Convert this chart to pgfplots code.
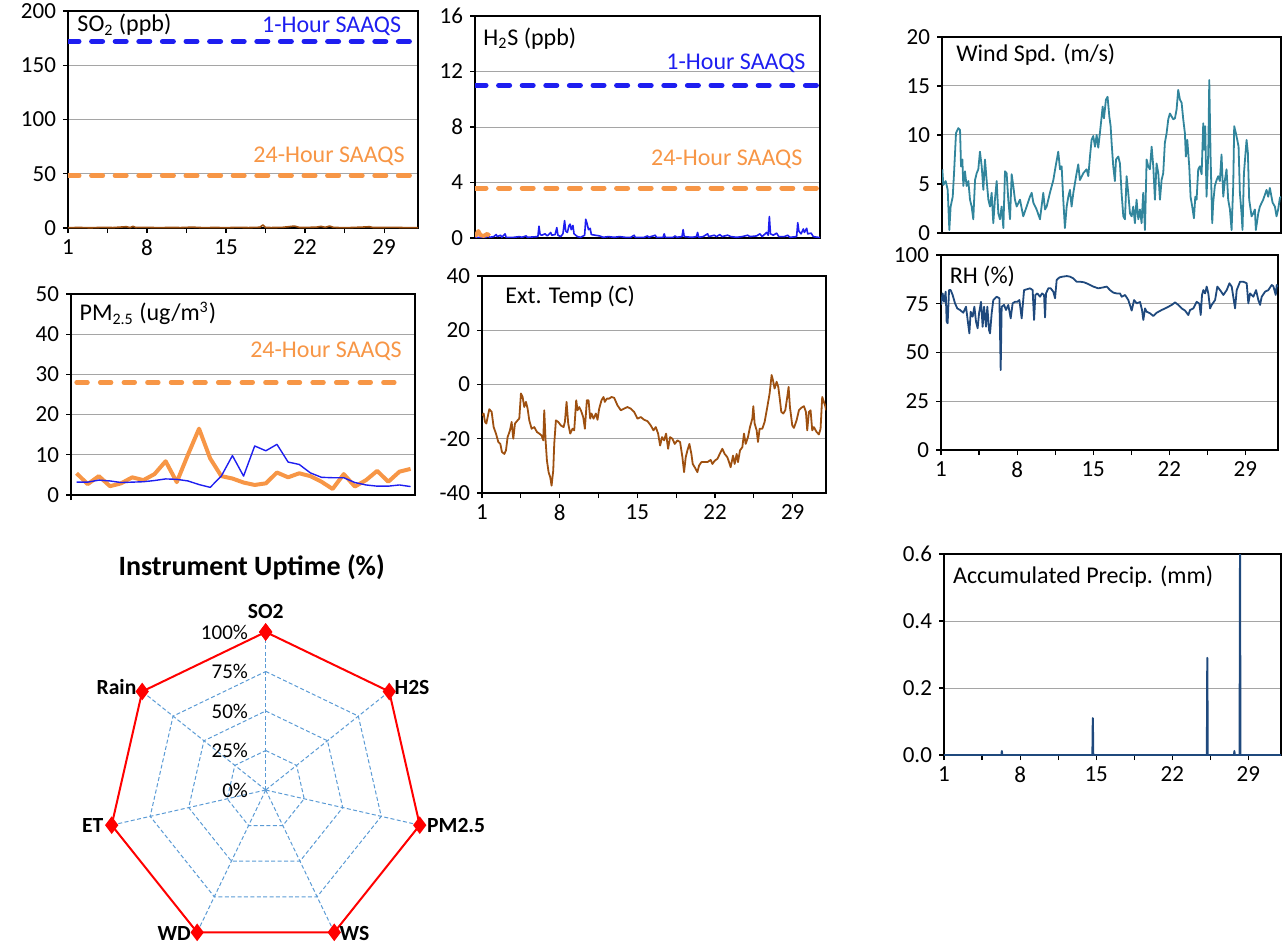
\documentclass[border=0pt]{standalone}
\usepackage{fontspec}
\setmainfont{Carlito}
\usepackage{pgfplots}
\usepackage{pgfplotstable}
\pgfplotsset{compat=1.18}

\definecolor{saaqsblue}{RGB}{30,30,240}
\definecolor{saaqsorange}{RGB}{247,150,70}
\definecolor{tempbrown}{RGB}{158,80,16}
\definecolor{windteal}{RGB}{49,133,156}
\definecolor{rhblue}{RGB}{31,73,125}
\definecolor{gridblue}{RGB}{91,155,213}
\definecolor{gridgray}{RGB}{165,165,165}

\pgfplotsset{
  panel/.style={
    scale only axis, xmin=1, xmax=32,
    axis line style={black, line width=0.8pt},
    ymajorgrids, grid style={gridgray, line width=0.5pt},
    tick align=outside, tick pos=left,
    major tick length=2.5pt, minor tick length=2.5pt,
    tick style={black, line width=0.6pt},
    tick label style={font=\fontsize{11.5}{13}\selectfont},
    /pgf/number format/assume math mode=true,
    xtick=\empty,
    every axis plot/.append style={line join=round},
  },
  daysx/.style={xtick={1,8,15,22,29}, minor xtick={4.5,11.5,18.5,25.5}},
}
\tikzset{
  std/.style={line width=2.5pt, line cap=round, dash pattern=on 5.5pt off 6.3pt},
  plabel/.style={font=\fontsize{12}{14}\selectfont, inner sep=0pt},
  rlab/.style={font=\fontsize{10.5}{12}\selectfont, anchor=east, inner sep=0pt},
  clab/.style={font=\bfseries\fontsize{10.8}{12}\selectfont, inner sep=0pt},
  rgrid/.style={gridblue, line width=0.5pt, dash pattern=on 2pt off 1.2pt},
}

% daily PM2.5
\pgfplotstableread{
day orange blue
1 5.4 3.2
2 2.7 3.2
3 4.7 3.7
4 2.2 3.5
5 2.9 3.1
6 4.4 3.2
7 3.7 3.3
8 5.2 3.6
9 8.4 4.0
10 3.2 3.9
11 10.0 3.5
12 16.5 2.6
13 9.1 1.9
14 4.7 4.7
15 4.1 9.8
16 3.1 4.7
17 2.5 12.2
18 2.9 11.0
19 5.6 12.6
20 4.4 8.2
21 5.4 7.6
22 4.7 5.5
23 3.3 4.4
24 1.5 4.3
25 5.2 4.3
26 2.1 3.1
27 3.7 2.5
28 6.0 2.2
29 3.3 2.2
30 5.8 2.5
31 6.5 2.1
}\pmdata

\pgfplotstableread{
day ws
1.03 6.5
1.12 4.9
1.34 5.3
1.52 4.4
1.67 0.3
1.79 2.7
1.98 3.7
2.10 6.1
2.28 10.2
2.49 10.7
2.65 10.5
2.74 6.8
2.86 7.5
2.95 4.8
3.10 6.3
3.25 4.8
3.41 5.3
3.56 3.4
3.71 2.7
3.86 1.4
4.02 5.4
4.17 6.1
4.32 6.5
4.47 8.3
4.63 6.8
4.78 4.4
4.93 7.5
5.08 5.4
5.24 3.4
5.39 2.7
5.54 4.1
5.69 1.0
5.84 3.4
6.00 5.3
6.15 2.0
6.30 1.4
6.45 2.7
6.61 0.5
6.76 6.3
6.91 6.1
7.06 3.4
7.22 1.4
7.37 6.0
7.52 4.8
7.67 3.4
7.83 2.7
8.13 3.4
8.43 1.7
8.74 2.7
9.04 3.7
9.20 4.1
9.35 3.1
9.65 2.4
9.96 1.4
10.26 4.1
10.42 2.4
10.57 2.7
10.87 4.1
11.18 5.4
11.39 6.8
11.63 8.3
11.79 6.5
11.94 6.8
12.09 3.4
12.24 0.5
12.40 2.7
12.55 3.7
12.70 4.4
12.85 2.7
13.01 4.1
13.31 6.1
13.46 7.0
13.61 5.4
13.92 6.1
14.22 6.5
14.38 5.8
14.53 7.8
14.68 9.5
14.83 9.9
14.99 8.8
15.14 10.0
15.29 8.7
15.44 10.2
15.60 11.9
15.69 12.9
15.81 11.7
15.99 13.6
16.14 13.9
16.30 11.9
16.42 10.9
16.51 9.2
16.66 6.8
16.81 5.3
16.91 7.5
17.12 7.8
17.27 7.1
17.42 4.1
17.58 1.7
17.73 1.4
17.88 5.8
18.03 4.1
18.19 2.0
18.34 1.7
18.49 2.7
18.64 1.0
18.79 3.4
18.95 1.4
19.10 2.4
19.25 1.0
19.40 4.1
19.56 0.3
19.71 7.5
19.86 6.8
20.01 6.5
20.17 8.8
20.32 6.8
20.47 3.4
20.62 7.1
20.78 6.1
20.93 3.4
21.08 5.4
21.23 6.1
21.38 9.2
21.54 10.2
21.69 11.6
21.84 12.2
21.99 11.9
22.15 11.6
22.30 11.7
22.45 12.6
22.60 14.6
22.76 13.6
22.91 13.3
23.06 11.6
23.21 10.2
23.30 7.8
23.43 9.5
23.61 6.8
23.73 3.7
23.88 2.7
24.04 1.5
24.16 3.7
24.28 3.4
24.43 6.5
24.58 6.8
24.74 6.0
24.89 11.2
24.98 8.5
25.07 10.9
25.19 3.7
25.35 8.2
25.44 15.6
25.56 7.8
25.71 1.0
25.80 3.1
25.95 4.8
26.11 5.4
26.26 5.8
26.41 5.3
26.56 8.0
26.72 3.7
26.87 5.4
27.02 6.5
27.17 3.4
27.33 2.4
27.48 0.3
27.63 4.8
27.72 10.9
27.87 10.2
28.00 9.5
28.12 8.8
28.24 4.1
28.39 2.0
28.48 0.3
28.61 6.1
28.73 7.8
28.85 9.5
28.97 8.2
29.09 3.4
29.31 1.7
29.46 2.0
29.61 2.4
29.70 0.3
29.92 2.0
30.07 2.7
30.37 3.4
30.68 4.4
30.83 3.7
30.98 4.6
31.23 3.1
31.44 2.7
31.59 1.7
31.74 2.4
31.90 3.6
31.99 3.7
}\winddata

\pgfplotstableread{
day rh
1.00 74.4
1.15 80.3
1.28 76.0
1.43 81.2
1.52 65.8
1.61 65.0
1.74 82.0
1.89 82.0
2.07 79.5
2.29 75.2
2.50 72.6
2.75 71.8
3.05 70.4
3.30 73.5
3.45 66.7
3.61 59.8
3.73 70.9
3.91 68.4
4.07 73.5
4.22 65.8
4.37 62.4
4.50 70.1
4.68 76.0
4.83 63.2
4.96 73.5
5.14 63.2
5.26 73.5
5.42 61.5
5.51 59.8
5.66 70.1
5.81 76.9
6.12 78.6
6.37 77.8
6.49 41.0
6.58 73.5
6.80 74.4
6.98 71.8
7.19 74.4
7.41 67.5
7.59 75.2
7.81 76.0
8.02 76.0
8.21 76.9
8.42 67.5
8.64 82.0
8.88 82.4
9.19 82.9
9.43 82.0
9.56 66.7
9.68 79.5
9.86 80.3
10.11 78.6
10.29 80.3
10.48 79.5
10.57 68.0
10.66 80.3
10.87 82.9
11.09 82.9
11.33 81.2
11.49 77.8
11.64 87.2
11.89 88.5
12.19 88.9
12.56 89.2
12.87 88.9
13.17 88.0
13.48 86.3
13.79 86.3
14.16 86.0
14.55 85.1
15.01 83.8
15.47 82.9
15.93 83.4
16.24 83.8
16.55 82.0
16.85 80.7
17.16 80.3
17.47 80.3
17.62 78.6
17.93 79.5
18.23 76.9
18.54 71.5
18.76 76.9
19.00 75.2
19.31 75.9
19.49 71.8
19.61 66.7
19.77 72.6
19.92 70.9
20.23 70.1
20.53 68.7
20.84 70.4
21.30 71.8
21.76 73.0
22.22 74.4
22.53 75.7
22.83 74.4
23.14 72.6
23.45 71.5
23.75 69.2
23.91 71.8
24.21 72.6
24.52 76.0
24.77 75.0
24.89 69.2
25.01 79.5
25.13 82.0
25.29 80.3
25.44 83.8
25.59 80.3
25.75 72.6
25.90 74.4
26.21 76.9
26.42 83.8
26.67 82.0
26.97 79.5
27.28 82.0
27.53 85.5
27.74 83.8
28.05 72.6
28.20 82.0
28.51 86.3
28.81 86.3
29.12 85.5
29.27 75.2
29.43 80.3
29.73 78.6
29.98 82.0
30.19 76.9
30.35 74.4
30.50 78.6
30.81 81.2
31.11 82.0
31.42 84.6
31.57 84.0
31.79 79.5
31.88 84.6
32.00 83.8
}\rhdata

\pgfplotstableread{
day t
1.00 -11.4
1.15 -10.7
1.27 -13.8
1.39 -14.4
1.51 -12.0
1.66 -9.1
1.87 -10.1
2.05 -15.7
2.26 -18.1
2.47 -21.2
2.65 -21.9
2.80 -24.9
3.01 -25.6
3.16 -24.3
3.31 -19.4
3.52 -16.9
3.67 -13.8
3.82 -20.0
3.97 -14.4
4.21 -13.2
4.36 -12.6
4.51 -3.3
4.66 -4.6
4.81 -8.3
4.96 -6.4
5.11 -8.9
5.26 -13.2
5.47 -16.3
5.71 -15.7
5.95 -17.5
6.16 -18.1
6.37 -18.8
6.52 -20.6
6.61 -9.5
6.73 -20.6
6.85 -28.0
7.00 -32.3
7.15 -34.2
7.27 -37.3
7.42 -31.7
7.51 -21.9
7.66 -13.2
7.87 -13.8
8.11 -15.1
8.35 -15.7
8.47 -13.8
8.62 -6.4
8.77 -14.4
8.95 -18.1
9.16 -16.3
9.31 -16.9
9.49 -5.8
9.61 -9.5
9.76 -8.3
9.91 -9.5
10.12 -12.0
10.27 -16.3
10.45 -5.8
10.60 -5.8
10.75 -12.6
10.87 -10.7
11.05 -12.6
11.26 -10.7
11.41 -13.0
11.56 -8.9
11.77 -5.8
11.95 -4.6
12.07 -6.4
12.25 -5.2
12.46 -5.2
12.67 -4.6
12.91 -4.9
13.21 -7.7
13.51 -9.5
13.81 -8.9
14.11 -8.3
14.41 -8.9
14.71 -10.1
15.01 -12.6
15.31 -12.0
15.61 -13.0
15.91 -13.5
16.21 -15.1
16.45 -16.9
16.66 -15.7
16.87 -18.1
17.05 -22.5
17.23 -19.4
17.41 -20.6
17.59 -18.1
17.77 -23.7
17.95 -19.4
18.16 -20.0
18.37 -21.9
18.61 -20.6
18.85 -21.2
19.06 -26.8
19.21 -32.3
19.36 -26.8
19.51 -24.3
19.69 -21.9
19.87 -25.6
19.99 -29.3
20.17 -30.5
20.41 -32.3
20.56 -29.9
20.77 -28.6
21.01 -28.6
21.31 -28.6
21.61 -27.8
21.76 -29.3
21.97 -28.1
22.21 -27.4
22.51 -24.9
22.66 -23.7
22.87 -25.6
23.11 -26.8
23.26 -28.6
23.41 -30.5
23.62 -26.2
23.77 -29.3
23.95 -25.6
24.07 -28.6
24.25 -24.3
24.46 -23.1
24.61 -18.1
24.76 -21.9
24.97 -19.4
25.15 -15.7
25.36 -12.6
25.45 -8.0
25.57 -14.4
25.75 -16.9
25.87 -21.2
26.02 -16.3
26.26 -16.3
26.47 -13.8
26.71 -8.3
26.92 -3.3
27.10 3.5
27.22 1.6
27.37 -1.5
27.55 1.0
27.70 -0.9
27.85 -5.8
27.97 -10.1
28.15 -10.7
28.33 -9.5
28.51 -4.6
28.63 -0.9
28.75 -8.3
28.96 -15.1
29.11 -16.0
29.35 -13.2
29.56 -9.5
29.77 -8.6
30.01 -8.0
30.19 -10.1
30.31 -16.9
30.46 -10.1
30.61 -9.5
30.76 -16.9
30.91 -15.7
31.15 -17.5
31.36 -18.4
31.51 -16.3
31.66 -4.6
31.81 -6.4
31.96 -8.3
32.00 -9.5
}\tempdata

\pgfplotstableread{
day h
1.0 0.05
2.0 0.05
2.2 0.15
2.3 0.05
2.7 0.1
2.9 0.25
3.0 0.1
3.3 0.2
3.4 0.05
3.7 0.3
3.8 0.05
4.5 0.05
5.0 0.1
5.2 0.05
5.6 0.15
5.7 0.05
6.65 0.1
6.75 0.85
6.85 0.25
7.0 0.2
7.3 0.3
7.5 0.15
7.8 0.4
7.9 0.2
8.2 0.25
8.35 0.75
8.45 0.2
8.7 0.1
8.9 0.3
9.05 1.25
9.15 0.5
9.3 0.4
9.45 0.9
9.55 1.0
9.65 0.6
9.8 0.9
9.9 0.3
10.2 0.1
10.5 0.05
10.85 0.2
10.95 1.35
11.05 1.1
11.2 0.6
11.35 0.7
11.45 0.25
11.8 0.2
12.2 0.15
12.5 0.05
13.0 0.1
13.5 0.05
14.0 0.1
14.5 0.05
15.0 0.05
15.3 0.2
15.4 0.05
16.2 0.05
16.5 0.15
16.6 0.05
17.2 0.2
17.3 0.05
17.9 0.05
18.0 0.3
18.1 0.05
18.8 0.05
19.0 0.15
19.1 0.05
19.6 0.1
19.7 0.6
19.8 0.1
20.5 0.05
20.9 0.1
21.0 0.4
21.1 0.05
21.5 0.1
21.9 0.3
22.0 0.1
22.5 0.2
22.7 0.1
23.0 0.25
23.2 0.1
23.7 0.2
24.0 0.1
24.5 0.05
25.0 0.1
25.5 0.2
25.7 0.1
26.3 0.15
26.6 0.3
26.8 0.1
27.2 0.4
27.35 0.2
27.45 1.55
27.55 0.3
27.8 0.2
28.1 0.35
28.3 0.1
28.8 0.1
29.1 0.2
29.3 0.05
29.9 0.1
30.0 1.1
30.1 0.5
30.3 0.3
30.5 0.65
30.6 0.4
30.8 0.7
30.9 0.3
31.2 0.35
31.4 0.1
31.8 0.05
32.0 0.05
}\hsdata

\begin{document}
\begin{tikzpicture}
\path[use as bounding box] (0,0) rectangle (642.5pt,-473.5pt);

% SO2
\begin{axis}[panel, daysx, at={(34pt,-114pt)}, anchor=south west,
  width=175pt, height=108.5pt, ymin=0, ymax=200, ytick={0,50,...,200}]
\addplot[saaqsblue, std] coordinates {(1,172) (32,172)};
\addplot[saaqsorange, std] coordinates {(1,48) (32,48)};
\addplot[tempbrown, line width=0.8pt] coordinates {
 (1,0.3) (2,0.5) (3,0.2) (4,0.6) (5,0.4) (6.16,1.2) (6.5,0.4) (6.75,1.5) (7,0.5)
 (8,0.6) (9,0.3) (10,0.5) (11,0.4) (12,0.8) (13,0.3) (14,0.5) (15,0.3) (16,0.6)
 (17,0.4) (18,0.7) (18.26,2.8) (18.5,0.5) (19,0.4) (20,0.6) (21.06,1.8) (21.5,0.5)
 (22,0.5) (23,0.8) (23.4,1.5) (23.8,0.6) (24.16,1.8) (24.5,0.6) (25,0.4) (26,0.4)
 (27,0.8) (27.7,1.2) (28,0.5) (29,0.5) (30,0.6) (31,0.3) (32,0.4)};
\node[plabel, anchor=west] at (rel axis cs:0.026,0.935) {SO\textsubscript{2} (ppb)};
\node[plabel, anchor=east, text=saaqsblue] at (rel axis cs:0.953,0.928) {1-Hour SAAQS};
\node[plabel, anchor=east, text=saaqsorange] at (rel axis cs:0.963,0.332) {24-Hour SAAQS};
\end{axis}

% H2S
\begin{axis}[panel, at={(237.5pt,-119pt)}, anchor=south west,
  width=172.5pt, height=111pt, ymin=0, ymax=16, ytick={0,4,...,16}]
\addplot[saaqsblue, std] coordinates {(1,11) (32,11)};
\addplot[saaqsorange, std] coordinates {(1,3.6) (32,3.6)};
\addplot[saaqsblue, line width=0.8pt] table[x=day, y=h] {\hsdata};
\addplot[saaqsorange, line width=2pt] coordinates {
 (1.0,0.1) (1.3,0.5) (1.5,0.2) (1.8,0.15) (2.1,0.3) (2.3,0.15)};
\node[plabel, anchor=west] at (rel axis cs:0.023,0.90) {H\textsubscript{2}S (ppb)};
\node[plabel, anchor=east, text=saaqsblue] at (rel axis cs:0.959,0.787) {1-Hour SAAQS};
\node[plabel, anchor=east, text=saaqsorange] at (rel axis cs:0.95,0.354) {24-Hour SAAQS};
\end{axis}

% Wind speed
\begin{axis}[panel, at={(471pt,-116.5pt)}, anchor=south west,
  width=169.5pt, height=98pt, ymin=0, ymax=20, ytick={0,5,...,20}]
\addplot[windteal, line width=0.9pt] table[x=day, y=ws] {\winddata};
\node[plabel, anchor=west] at (rel axis cs:0.041,0.908) {Wind Spd. (m/s)};
\end{axis}

% PM2.5
\begin{axis}[panel, at={(35.5pt,-247.5pt)}, anchor=south west,
  width=172pt, height=100.5pt, xmin=0.5, xmax=31.4, ymin=0, ymax=50,
  ytick={0,10,...,50}, xtick={0.5}, xticklabels={}]
\addplot[saaqsorange, std, line width=2.2pt] coordinates {(1,28) (30.5,28)};
\addplot[saaqsorange, line width=2pt] table[x=day, y=orange] {\pmdata};
\addplot[saaqsblue, line width=0.7pt] table[x=day, y=blue] {\pmdata};
\node[plabel, anchor=west] at (rel axis cs:0.024,0.904) {PM\textsubscript{2.5} (ug/m\textsuperscript{3})};
\node[plabel, anchor=east, text=saaqsorange] at (rel axis cs:0.962,0.716) {24-Hour SAAQS};
\end{axis}

% External temperature
\begin{axis}[panel, daysx, at={(241pt,-246.5pt)}, anchor=south west,
  width=172pt, height=108.5pt, ymin=-40, ymax=40, ytick={-40,-20,...,40}]
\addplot[tempbrown, line width=0.9pt] table[x=day, y=t] {\tempdata};
\node[plabel, anchor=west] at (rel axis cs:0.067,0.905) {Ext. Temp (C)};
\end{axis}

% RH
\begin{axis}[panel, daysx, at={(470.5pt,-225pt)}, anchor=south west,
  width=168.5pt, height=97.5pt, ymin=0, ymax=100, ytick={0,25,...,100}]
\addplot[rhblue, line width=0.9pt] table[x=day, y=rh] {\rhdata};
\node[plabel, anchor=west] at (rel axis cs:0.025,0.892) {RH (\%)};
\end{axis}

% Precipitation
\begin{axis}[panel, daysx, at={(472pt,-377.5pt)}, anchor=south west,
  width=168.5pt, height=100.5pt, ymin=0, ymax=0.6, ytick={0,0.2,0.4,0.6},
  yticklabel style={/pgf/number format/.cd, fixed, fixed zerofill, precision=1}]
\addplot[rhblue, line width=1pt] coordinates {
 (1,0) (6.28,0) (6.32,0.012) (6.36,0) (14.65,0) (14.69,0.11) (14.73,0)
 (25.18,0) (25.22,0.29) (25.26,0) (27.68,0) (27.71,0.012) (27.74,0)
 (28.19,0) (28.23,0.6) (28.27,0) (32,0)};
\node[plabel, anchor=west] at (rel axis cs:0.026,0.887) {Accumulated Precip. (mm)};
\end{axis}

% Instrument uptime radar
\node[font=\bfseries\fontsize{14}{16}\selectfont] at (125.85pt,-283.5pt) {Instrument Uptime (\%)};
\begin{axis}[at={(132.85pt,-395pt)}, anchor=center, scale only axis,
  width=158pt, height=158pt, xmin=-100, xmax=100, ymin=-100, ymax=100,
  hide axis, clip=false]
\addplot[rgrid, data cs=polar] coordinates {(90,0) (90,100)};
\addplot[rgrid, data cs=polar] coordinates {(38.571,0) (38.571,100)};
\addplot[rgrid, data cs=polar] coordinates {(-12.857,0) (-12.857,100)};
\addplot[rgrid, data cs=polar] coordinates {(-64.286,0) (-64.286,100)};
\addplot[rgrid, data cs=polar] coordinates {(-115.714,0) (-115.714,100)};
\addplot[rgrid, data cs=polar] coordinates {(-167.143,0) (-167.143,100)};
\addplot[rgrid, data cs=polar] coordinates {(141.429,0) (141.429,100)};
\addplot[rgrid, data cs=polar] coordinates {
 (90,25) (38.571,25) (-12.857,25) (-64.286,25) (-115.714,25) (-167.143,25) (141.429,25) (90,25)};
\addplot[rgrid, data cs=polar] coordinates {
 (90,50) (38.571,50) (-12.857,50) (-64.286,50) (-115.714,50) (-167.143,50) (141.429,50) (90,50)};
\addplot[rgrid, data cs=polar] coordinates {
 (90,75) (38.571,75) (-12.857,75) (-64.286,75) (-115.714,75) (-167.143,75) (141.429,75) (90,75)};
\addplot[red, line width=1pt, mark=diamond*, mark size=3.6pt,
  mark options={solid, fill=red, draw=red}, data cs=polar] coordinates {
 (90,100) (38.571,100) (-12.857,100) (-64.286,100) (-115.714,100) (-167.143,100) (141.429,100) (90,100)};
\node[rlab] at (axis cs:-11,100) {100\%};
\node[rlab] at (axis cs:-11,75) {75\%};
\node[rlab] at (axis cs:-11,50) {50\%};
\node[rlab] at (axis cs:-11,25) {25\%};
\node[rlab] at (axis cs:-11,0) {0\%};
\node[clab, anchor=south, yshift=6.7pt] at (axis cs:0,100) {SO2};
\node[clab, anchor=west, xshift=2.5pt, yshift=2pt] at (axis cs:78.18,62.35) {H2S};
\node[clab, anchor=west, xshift=3.5pt] at (axis cs:97.49,-22.25) {PM2.5};
\node[clab, anchor=west, xshift=2.5pt, yshift=-0.8pt] at (axis cs:43.39,-90.10) {WS};
\node[clab, anchor=east, xshift=-3pt, yshift=-0.8pt] at (axis cs:-43.39,-90.10) {WD};
\node[clab, anchor=east, xshift=-4pt] at (axis cs:-97.49,-22.25) {ET};
\node[clab, anchor=east, xshift=-2.7pt, yshift=2pt] at (axis cs:-78.18,62.35) {Rain};
\end{axis}
\end{tikzpicture}
\end{document}
